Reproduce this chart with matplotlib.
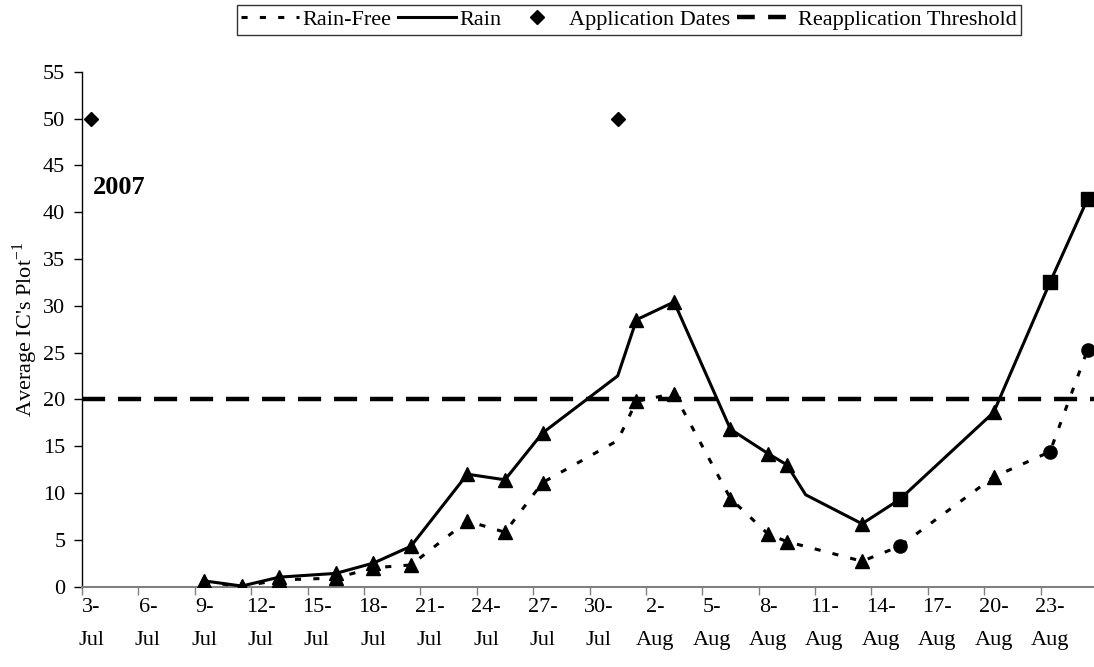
import matplotlib
matplotlib.use("Agg")
import matplotlib.pyplot as plt
import numpy as np
import pandas as pd
from matplotlib.lines import Line2D

plt.rcParams["font.family"] = ["Liberation Serif", "DejaVu Serif"]
plt.rcParams["mathtext.fontset"] = "custom"
plt.rcParams["mathtext.rm"] = "Liberation Serif"

FS = 16

START = pd.Timestamp("2007-07-03")
N_DAYS = 54  # 3-Jul .. 25-Aug, one category per day

RAIN_DATES = ["07-09", "07-11", "07-13", "07-16", "07-18", "07-20", "07-23",
              "07-25", "07-27", "07-31", "08-01", "08-03", "08-06", "08-08",
              "08-09", "08-10", "08-13", "08-15", "08-20", "08-23", "08-25"]
RAIN_VALS = [0.6, 0.05, 1.0, 1.4, 2.5, 4.3, 12.0,
             11.4, 16.4, 22.5, 28.5, 30.4, 16.8, 14.2,
             13.0, 9.8, 6.7, 9.3, 18.6, 32.5, 41.4]
RAIN_MARK = ["^"] * 9 + [None] + ["^"] * 5 + [None, "^", "s", "^", "s", "s"]

FREE_DATES = ["07-09", "07-11", "07-13", "07-16", "07-18", "07-20", "07-23",
              "07-25", "07-27", "07-31", "08-01", "08-03", "08-06", "08-08",
              "08-09", "08-13", "08-15", "08-20", "08-23", "08-25"]
FREE_VALS = [0.5, 0.0, 0.7, 0.9, 2.0, 2.3, 7.0,
             5.8, 11.1, 15.6, 19.8, 20.6, 9.4, 5.6,
             4.8, 2.7, 4.3, 11.7, 14.4, 25.3]
FREE_MARK = ["^"] * 9 + [None] + ["^"] * 6 + ["o", "^", "o", "o"]

APP_DATES = ["07-03", "07-31"]
APP_VALS = [50, 50]

THRESHOLD = 20


def day_index(dates):
    ts = pd.to_datetime(["2007-" + d for d in dates])
    return np.array((ts - START).days)


def plot_series(ax, dates, vals, marks, ls):
    x = day_index(dates)
    y = np.array(vals)
    ax.plot(x, y, color="black", lw=2.2, linestyle=ls, zorder=3)
    for m, ms in (("^", 10), ("s", 9.5), ("o", 9.5)):
        sel = np.array([k == m for k in marks])
        if sel.any():
            ax.plot(x[sel], y[sel], linestyle="none", marker=m, ms=ms,
                    color="black", zorder=4)


fig = plt.figure(figsize=(10.94, 6.67), dpi=100)
ax = fig.add_axes([82 / 1094, 80.5 / 667, 1015 / 1094, 514.8 / 667])

dotted = (0, (2, 4))
plot_series(ax, FREE_DATES, FREE_VALS, FREE_MARK, dotted)
plot_series(ax, RAIN_DATES, RAIN_VALS, RAIN_MARK, "-")
ax.plot(day_index(APP_DATES), APP_VALS, linestyle="none", marker="D", ms=7,
        color="black", zorder=4)
ax.axhline(THRESHOLD, color="black", lw=3.2, linestyle=(0, (5.2, 2.9)), zorder=2)

ax.set_xlim(-0.5, N_DAYS - 0.5)
ax.set_ylim(0, 55)
ax.set_yticks(np.arange(0, 56, 5))

# category axis: ticks between days, labels on every third day
days = pd.date_range(START, periods=N_DAYS, freq="D")
ax.set_xticks(np.arange(-0.5, N_DAYS, 3))
ax.set_xticklabels([])
lab_pos = np.arange(0, 52, 3)
ax.set_xticks(lab_pos, minor=True)
ax.set_xticklabels([f"{days[i].day}-\n{days[i].strftime('%b')}" for i in lab_pos],
                   minor=True)
ax.tick_params(axis="x", which="minor", length=0, pad=8, labelsize=FS)
ax.tick_params(axis="x", which="major", length=6, color="#808080", width=1)
ax.tick_params(axis="y", length=6, width=1, labelsize=FS, pad=6)
for t in ax.get_xticklabels(minor=True):
    t.set_linespacing(2.05)

for s in ("top", "right"):
    ax.spines[s].set_visible(False)
ax.spines["bottom"].set_color("#808080")
ax.spines["bottom"].set_linewidth(1.5)
ax.spines["left"].set_linewidth(1)

ax.set_ylabel("Average IC's Plot$^{-1}$", fontsize=FS, labelpad=2)
ax.text(0.1, 42.6, "2007", fontsize=19, fontweight="bold", va="center")

handles = [
    Line2D([], [], color="black", lw=2.2, linestyle=dotted),
    Line2D([], [], color="black", lw=2.2),
    Line2D([], [], color="black", linestyle="none", marker="D", ms=7),
    Line2D([], [], color="black", lw=3.2, linestyle=(0, (4, 3))),
]
leg = fig.legend(handles, ["Rain-Free", "Rain", "Application Dates",
                           "Reapplication Threshold"],
                 loc="center", bbox_to_anchor=(629 / 1094, 1 - 20 / 667),
                 ncol=4, fontsize=FS, frameon=True, fancybox=False,
                 handlelength=2.6, handletextpad=0.15, columnspacing=0.3,
                 borderpad=0.2, borderaxespad=0)
leg.get_frame().set_edgecolor("black")
leg.get_frame().set_linewidth(1)

fig.savefig("out.png", dpi=100)
